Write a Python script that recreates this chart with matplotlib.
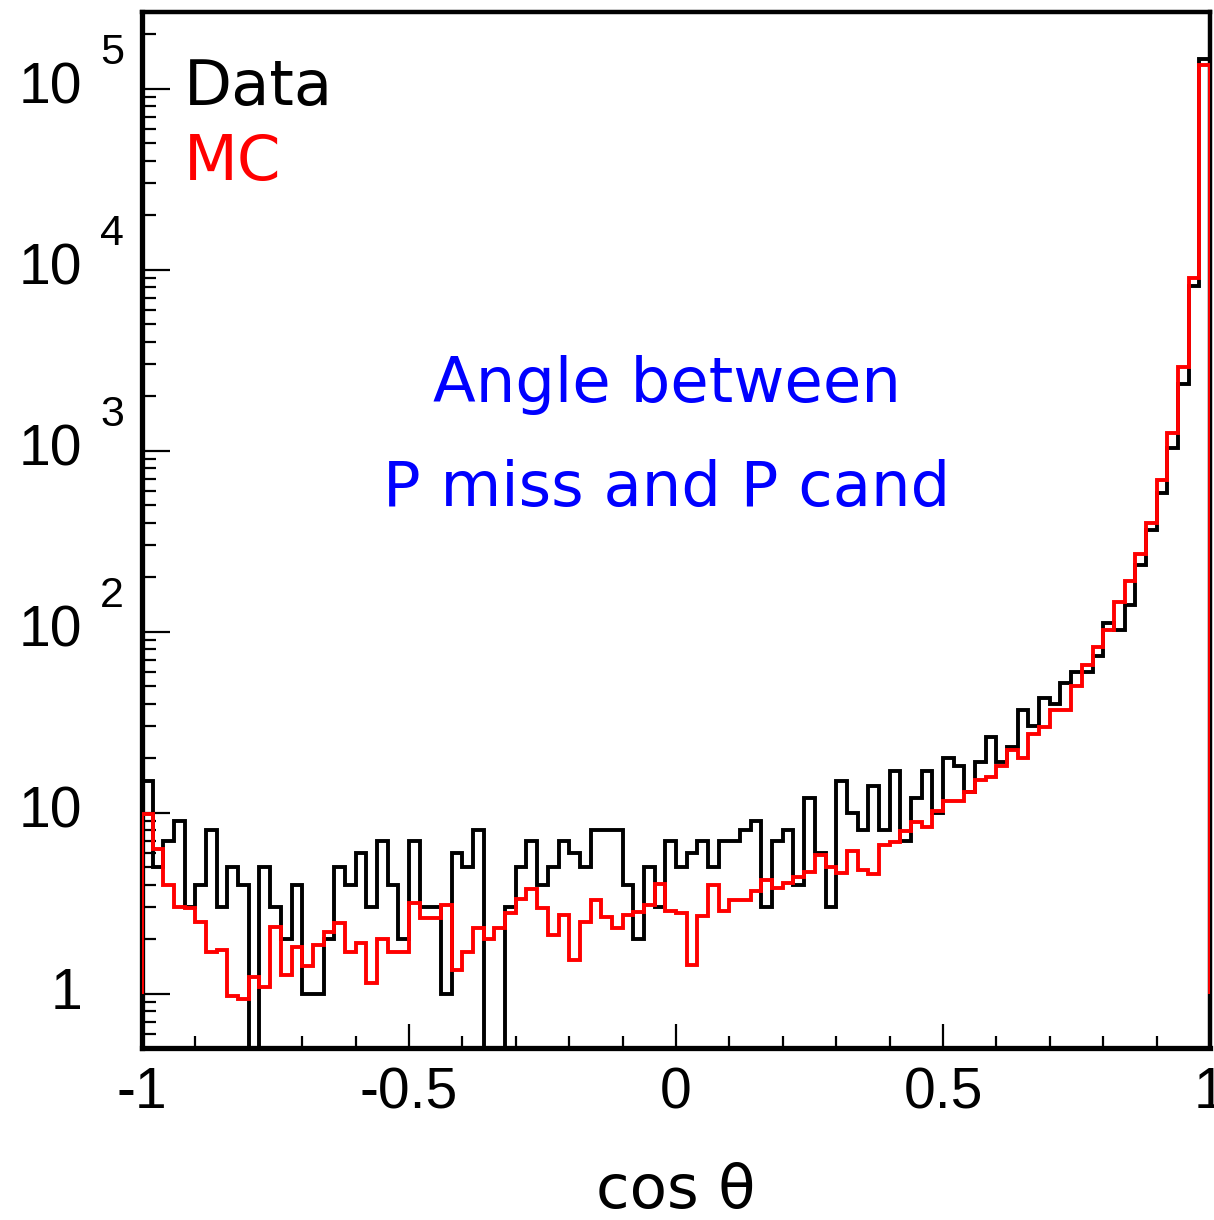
import numpy as np
import matplotlib
matplotlib.use("Agg")
import matplotlib.pyplot as plt
from matplotlib.transforms import blended_transform_factory, offset_copy
from matplotlib.ticker import FixedLocator, FixedFormatter, NullFormatter

plt.rcParams['axes.unicode_minus'] = False

# ---- data (100 bins from -1 to 1) ----
x_min, x_max, n_bins = -1.0, 1.0, 100

data_counts = [
    15, 5, 7, 9, 3, 4, 8, 3, 5, 4,
    0, 5, 3, 2, 4, 1, 1, 2, 5, 4,
    6, 3, 7, 4, 2, 7, 3, 3, 1, 6,
    5, 8, 0, 0, 3, 5, 7, 4, 5, 7,
    6, 5, 8, 8, 8, 4, 2, 5, 3, 7,
    5, 6, 7, 5, 7, 7, 8, 9, 3, 7,
    8, 4, 12, 6, 3, 15, 10, 8, 14, 8,
    17, 7, 12, 17, 10, 20, 18, 13, 19, 26,
    19, 23, 37, 30, 43, 40, 52, 60, 60, 73,
    111, 102, 140, 232, 366, 580, 1027, 2330, 8090, 145000,
]

mc_counts = [
    9.8, 6.3, 3.97, 3.0, 2.95, 2.49, 1.7, 1.75, 0.97, 0.93,
    1.24, 1.08, 2.33, 1.26, 1.8, 1.42, 1.85, 2.19, 2.45, 1.7,
    1.9, 1.14, 2.01, 1.7, 1.7, 3.17, 2.6, 2.6, 3.1, 1.35,
    1.7, 2.29, 2.01, 2.29, 2.77, 3.31, 3.8, 2.95, 2.1, 2.71,
    1.54, 2.49, 3.28, 2.65, 2.29, 2.71, 2.82, 3.08, 4.02, 2.85,
    2.77, 1.43, 2.67, 3.97, 2.86, 3.28, 3.28, 3.69, 4.23, 3.85,
    4.08, 4.41, 4.7, 5.81, 5.0, 4.64, 6.14, 4.84, 4.6, 6.6,
    6.88, 7.91, 8.87, 8.32, 10.2, 11.6, 11.6, 13.0, 15.1, 15.7,
    18.1, 22.1, 19.9, 27.3, 29.7, 36.7, 36.7, 49.9, 65.2, 82.2,
    102.6, 146, 190, 267, 399, 688, 1254, 2880, 9040, 135000,
]

y_min, y_max = 0.5, 2.65e5
x_tick_vals = [-1, -0.5, 0, 0.5, 1]
x_tick_labels = ['-1', '-0.5', '0', '0.5', '1']
y_tick_exps = [0, 1, 2, 3, 4, 5]

W, H = 1214, 1220
fig = plt.figure(figsize=(W / 100, H / 100), dpi=100)
ax = fig.add_axes([142 / W, 1 - 1048 / H, (1210 - 142) / W, (1048 - 12) / H])

edges = np.linspace(x_min, x_max, n_bins + 1)
data_arr = np.asarray(data_counts, dtype=float)
mc_arr = np.asarray(mc_counts, dtype=float)
ax.stairs(np.where(data_arr > 0, data_arr, 1e-3), edges, baseline=1e-3,
          color='black', lw=2.8, zorder=3)
ax.stairs(mc_arr, edges, baseline=1.0, color='red', lw=2.8, zorder=4)

ax.set_yscale('log')
ax.set_xlim(x_min, x_max)
ax.set_ylim(y_min, y_max)

for side in ['left', 'bottom']:
    ax.spines[side].set_linewidth(3.8)
for side in ['top', 'right']:
    ax.spines[side].set_linewidth(3.2)

# x ticks
ax.xaxis.set_major_locator(FixedLocator(x_tick_vals))
ax.xaxis.set_major_formatter(FixedFormatter(x_tick_labels))
ax.xaxis.set_minor_locator(FixedLocator(np.arange(-0.9, 1.0, 0.1)))
ax.tick_params(axis='x', which='major', direction='in', length=17, width=1.6,
               pad=13, labelsize=41, top=False)
ax.tick_params(axis='x', which='minor', direction='in', length=9, width=1.6, top=False)
for lab in ax.get_xticklabels():
    lab.set_fontfamily('Liberation Sans')

# y ticks
ax.yaxis.set_major_locator(FixedLocator([10.0 ** e for e in y_tick_exps]))
minors = [m * 10.0 ** e for e in range(-1, 6) for m in range(2, 10)]
ax.yaxis.set_minor_locator(FixedLocator(minors))
ax.yaxis.set_major_formatter(NullFormatter())
ax.yaxis.set_minor_formatter(NullFormatter())
ax.tick_params(axis='y', which='major', direction='in', length=20, width=1.6, right=False)
ax.tick_params(axis='y', which='minor', direction='in', length=10, width=1.6, right=False)

trans = blended_transform_factory(fig.transFigure, ax.transData)
for e in y_tick_exps:
    v = 10.0 ** e
    label = '1' if e == 0 else '10'
    ax.text(82 / W, v, label, transform=trans, ha='right', va='center',
            fontsize=41, family='Liberation Sans')
    if e >= 2:
        t2 = offset_copy(trans, fig=fig, x=0, y=36, units='dots')
        ax.text(100 / W, v, str(e), transform=t2, ha='left', va='center',
                fontsize=31, family='Liberation Sans')

ax.set_xlabel('cos θ', fontsize=44, labelpad=30)

ax.text(184 / W, 1 - 105 / H, 'Data', transform=fig.transFigure, fontsize=45,
        color='black', ha='left', va='baseline')
ax.text(184 / W, 1 - 180 / H, 'MC', transform=fig.transFigure, fontsize=45,
        color='red', ha='left', va='baseline')
ax.text(667 / W, 1 - 402 / H, 'Angle between', transform=fig.transFigure, fontsize=45,
        color='blue', ha='center', va='baseline')
ax.text(667 / W, 1 - 506 / H, 'P miss and P cand', transform=fig.transFigure, fontsize=45,
        color='blue', ha='center', va='baseline')

fig.savefig('out.png', dpi=100)
